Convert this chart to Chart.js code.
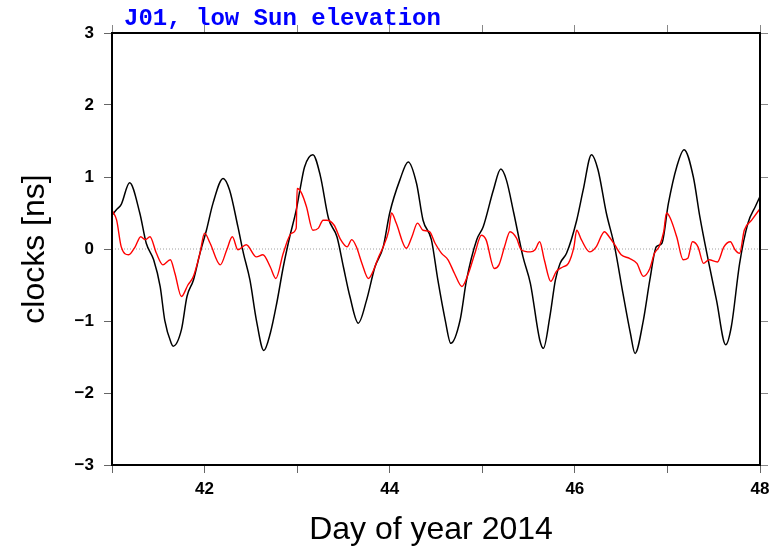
<!DOCTYPE html>
<html>
<head>
<meta charset="utf-8">
<script src="https://cdn.jsdelivr.net/npm/chart.js@4.4.1/dist/chart.umd.min.js"></script>
<style>
  html, body { margin: 0; padding: 0; background: #fff; }
  #wrap { width: 783px; height: 553px; position: relative; }
</style>
</head>
<body>
<div id="wrap"><canvas id="c" width="783" height="553"></canvas></div>
<script>
// ---- data ----
const chartTitle = "J01, low Sun elevation";
const xTitle = "Day of year 2014";
const yTitle = "clocks [ns]";
const xRange = [41, 48];
const yRange = [-3, 3];

const blackDays = [41.00,41.05,41.10,41.19,41.30,41.37,41.45,41.52,41.57,41.64,41.66,41.75,41.81,41.88,41.95,
  42.02,42.09,42.20,42.27,42.36,42.42,42.49,42.56,42.64,42.71,42.78,42.85,42.92,42.99,
  43.03,43.08,43.17,43.25,43.34,43.43,43.50,43.57,43.66,43.75,43.84,43.93,
  44.00,44.11,44.20,44.29,44.36,44.45,44.52,44.60,44.66,44.76,44.83,44.94,
  45.01,45.12,45.20,45.26,45.34,45.44,45.52,45.62,45.66,45.73,45.79,45.84,45.91,
  46.02,46.09,46.18,46.25,46.34,46.43,46.52,46.60,46.65,46.74,46.81,46.88,46.94,
  47.01,47.10,47.18,47.28,47.35,47.44,47.53,47.63,47.69,47.78,47.87,47.95,48.00];
const blackVals = [0.47,0.55,0.62,0.92,0.50,0.08,-0.15,-0.52,-0.99,-1.31,-1.35,-1.12,-0.66,-0.43,-0.06,
  0.26,0.63,0.98,0.82,0.31,-0.06,-0.43,-0.99,-1.41,-1.17,-0.75,-0.25,0.17,0.54,
  0.82,1.14,1.31,1.02,0.42,0.17,-0.25,-0.66,-1.03,-0.71,-0.25,0.03,
  0.50,0.96,1.21,0.91,0.40,0.13,-0.43,-0.99,-1.31,-0.99,-0.43,0.13,
  0.31,0.82,1.11,0.96,0.50,-0.11,-0.48,-1.26,-1.38,-0.94,-0.43,-0.20,-0.06,
  0.40,0.82,1.31,1.10,0.50,0.03,-0.62,-1.17,-1.45,-0.99,-0.43,0.03,0.08,
  0.63,1.14,1.38,1.00,0.45,-0.15,-0.71,-1.33,-1.08,-0.20,0.36,0.59,0.73];

const redDays = [41.00,41.05,41.10,41.18,41.25,41.31,41.36,41.41,41.48,41.55,41.63,41.68,41.75,41.82,41.88,41.95,
  42.00,42.06,42.17,42.24,42.30,42.36,42.45,42.56,42.63,42.71,42.77,42.85,42.94,42.99,
  43.00,43.05,43.10,43.17,43.23,43.28,43.32,43.40,43.47,43.54,43.59,43.64,43.70,43.77,43.82,43.88,43.93,43.99,
  44.02,44.07,44.18,44.24,44.30,44.36,44.43,44.49,44.56,44.63,44.70,44.78,44.85,44.92,44.99,
  45.04,45.13,45.18,45.24,45.30,45.37,45.42,45.52,45.57,45.62,45.67,45.74,45.80,45.87,45.93,45.99,
  46.02,46.07,46.16,46.23,46.32,46.37,46.43,46.50,46.59,46.67,46.74,46.81,46.86,46.91,46.96,46.99,
  47.03,47.10,47.17,47.22,47.27,47.33,47.39,47.45,47.54,47.61,47.68,47.73,47.78,47.83,47.91,48.00];
const redVals = [0.54,0.40,0.03,-0.08,0.03,0.17,0.13,0.17,-0.06,-0.22,-0.15,-0.34,-0.66,-0.50,-0.38,-0.06,
  0.22,0.08,-0.22,-0.01,0.17,-0.01,0.06,-0.11,-0.08,-0.25,-0.41,-0.06,0.22,0.29,
  0.84,0.77,0.59,0.26,0.29,0.40,0.40,0.33,0.13,0.03,0.13,0.03,-0.20,-0.41,-0.31,-0.11,0.03,0.26,
  0.50,0.36,0.01,0.17,0.36,0.26,0.24,0.08,-0.06,-0.15,-0.34,-0.52,-0.34,-0.06,0.19,
  0.13,-0.27,-0.22,0.03,0.24,0.15,-0.01,-0.04,-0.01,0.10,-0.15,-0.45,-0.31,-0.25,-0.20,0.03,
  0.26,0.13,-0.04,0.03,0.24,0.17,0.06,-0.08,-0.13,-0.20,-0.38,-0.27,-0.06,0.03,0.24,0.50,
  0.43,0.17,-0.15,-0.13,0.10,0.03,-0.20,-0.15,-0.18,0.03,0.10,-0.01,-0.06,0.26,0.40,0.56];

const zeroDays = [41, 48];
const zeroVals = [0, 0];

// ---- build ----
const pts = (xs, ys) => xs.map((x, i) => ({ x: x, y: ys[i] }));
const fmtY = v => (v < 0 ? "\u2212" + Math.abs(v) : String(v));

const TICK_FONT = { family: "'Liberation Sans', Arial, sans-serif", size: 17, weight: "bold" };

const fixedSize = (prop, val) => (scale) => { scale[prop] = val; };

const framePlugin = {
  id: "frameAndTexts",
  afterDraw(chart) {
    const ctx = chart.ctx;
    const a = chart.chartArea;
    ctx.save();
    ctx.strokeStyle = "#000";
    ctx.lineWidth = 2;
    ctx.strokeRect(a.left, a.top, a.right - a.left, a.bottom - a.top);

    // title (top-left)
    ctx.fillStyle = "#0000ff";
    ctx.font = "bold 24px 'Liberation Mono', 'Courier New', monospace";
    ctx.textAlign = "left";
    ctx.textBaseline = "alphabetic";
    ctx.fillText(chartTitle, a.left + 12, 25);

    // axis titles
    ctx.fillStyle = "#000";
    ctx.font = "32px 'Liberation Sans', Arial, sans-serif";
    ctx.textAlign = "center";
    ctx.textBaseline = "middle";
    ctx.fillText(xTitle, (a.left + a.right) / 2 - 5, 530);
    ctx.translate(35, (a.top + a.bottom) / 2);
    ctx.rotate(-Math.PI / 2);
    ctx.fillText(yTitle, 0, 0);
    ctx.restore();
  }
};

new Chart(document.getElementById("c"), {
  type: "line",
  data: {
    datasets: [
      { data: pts(redDays, redVals), borderColor: "#ff0000", borderWidth: 1.4, pointRadius: 0, cubicInterpolationMode: "monotone", order: 0 },
      { data: pts(blackDays, blackVals), borderColor: "#000000", borderWidth: 1.5, pointRadius: 0, cubicInterpolationMode: "monotone", order: 1 },
      { data: pts(zeroDays, zeroVals), borderColor: "#a0a0a0", borderWidth: 1, borderDash: [1, 2], pointRadius: 0, order: 2 }
    ]
  },
  options: {
    responsive: false,
    animation: false,
    events: [],
    layout: { padding: 0 },
    plugins: { legend: { display: false }, tooltip: { enabled: false }, title: { display: false } },
    scales: {
      x: {
        type: "linear", position: "bottom", min: xRange[0], max: xRange[1],
        afterFit: fixedSize("height", 88),
        border: { display: false },
        grid: { drawOnChartArea: false, color: "#666", tickLength: 8, lineWidth: 1 },
        ticks: { stepSize: 1, color: "#000", font: TICK_FONT, padding: 6, maxRotation: 0,
                 callback: v => (v % 2 === 0 ? String(v) : "") }
      },
      x2: {
        type: "linear", position: "top", min: xRange[0], max: xRange[1],
        afterFit: fixedSize("height", 33),
        border: { display: false },
        grid: { drawOnChartArea: false, color: "#888", tickLength: 8, lineWidth: 1 },
        ticks: { stepSize: 1, display: false }
      },
      y: {
        type: "linear", position: "left", min: yRange[0], max: yRange[1],
        afterFit: fixedSize("width", 112),
        border: { display: false },
        grid: { drawOnChartArea: false, color: "#666", tickLength: 8, lineWidth: 1 },
        ticks: { stepSize: 1, color: "#000", font: TICK_FONT, padding: 10, callback: v => fmtY(v) }
      },
      y2: {
        type: "linear", position: "right", min: yRange[0], max: yRange[1],
        afterFit: fixedSize("width", 23),
        border: { display: false },
        grid: { drawOnChartArea: false, color: "#888", tickLength: 8, lineWidth: 1 },
        ticks: { stepSize: 1, display: false }
      }
    }
  },
  plugins: [framePlugin]
});
</script>
</body>
</html>
